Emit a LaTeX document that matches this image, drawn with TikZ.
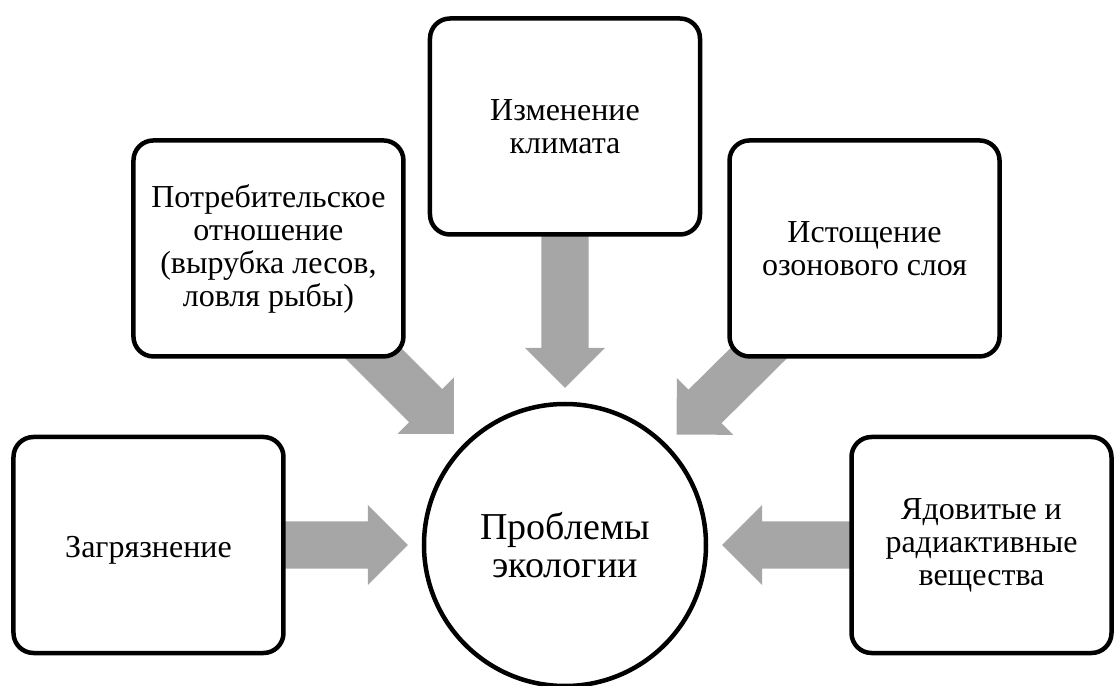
\documentclass[tikz,border=0pt]{standalone}
\usepackage{fontspec}
\setmainfont{Liberation Serif}
\usepackage{tikz}
\usetikzlibrary{positioning, backgrounds, calc}
\definecolor{arrgray}{HTML}{A6A6A6}

\begin{document}
\begin{tikzpicture}[
    issue/.style={rectangle, draw, line width=4.5bp, rounded corners=20bp, fill=white,
                  minimum width=270bp, minimum height=216bp, align=center,
                  font=\fontsize{32bp}{33bp}\selectfont,
                  execute at begin node={\rule{0pt}{32bp}}},
    core/.style={circle, draw, line width=4.5bp, fill=white, minimum size=282bp,
                 align=center, font=\fontsize{38bp}{38bp}\selectfont},
    arr/.style={draw=none, fill=arrgray, to path={
        ($(\tikztostart)!23.5bp!90:(\tikztotarget)$)
        -- ($($(\tikztotarget)!197bp!(\tikztostart)$)!23.5bp!90:(\tikztotarget)$)
        -- ($($(\tikztotarget)!197bp!(\tikztostart)$)!40bp!90:(\tikztotarget)$)
        -- ($(\tikztotarget)!157bp!(\tikztostart)$)
        -- ($($(\tikztotarget)!197bp!(\tikztostart)$)!40bp!-90:(\tikztotarget)$)
        -- ($($(\tikztotarget)!197bp!(\tikztostart)$)!23.5bp!-90:(\tikztotarget)$)
        -- ($(\tikztostart)!23.5bp!-90:(\tikztotarget)$) -- cycle}},
]
\useasboundingbox (-565bp,-141bp) rectangle (550bp,545bp);

\node[core] (eco) at (0,0) {Проблемы\\экологии};
\node[issue, left=136bp of eco] (pollut) {Загрязнение};
\node[issue, above left=85bp and 58bp of eco] (consum) {Потребительское\\отношение\\(вырубка лесов,\\ловля рыбы)};
\node[issue, above=165bp of eco] (climate) {Изменение\\климата};
\node[issue, above right=85bp and 61bp of eco] (ozone) {Истощение\\озонового слоя};
\node[issue, right=141bp of eco, minimum width=260bp] (toxic) {Ядовитые и\\радиактивные\\вещества};

\begin{scope}[on background layer]
\foreach \src in {pollut, consum, climate, ozone, toxic}
    \draw[arr] (\src) to (eco);
\end{scope}
\end{tikzpicture}
\end{document}
